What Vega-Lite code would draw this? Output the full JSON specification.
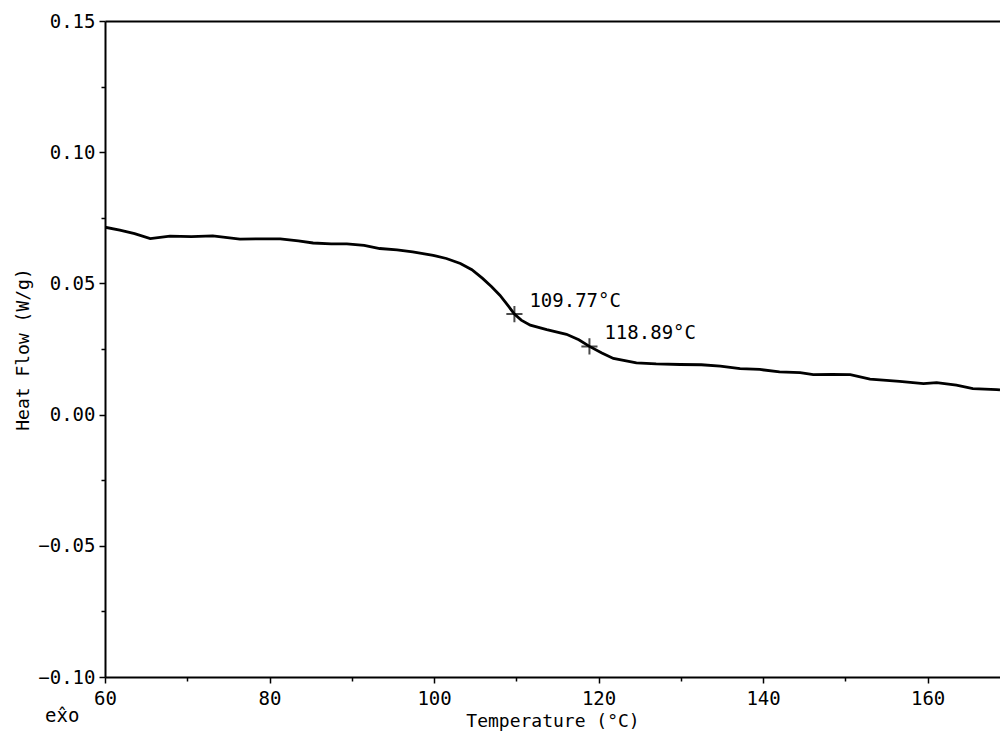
{
  "$schema": "https://vega.github.io/schema/vega-lite/v6.json",
  "width": 895,
  "height": 656,
  "autosize": "none",
  "padding": {"left": 105, "top": 21, "right": 0, "bottom": 57},
  "background": "white",
  "config": {
    "font": "DejaVu Sans Mono",
    "view": {"stroke": null},
    "axis": {"domainColor": "black", "domainWidth": 2, "tickColor": "black", "tickWidth": 1.5, "labelColor": "black", "titleColor": "black", "labelFont": "DejaVu Sans Mono", "titleFont": "DejaVu Sans Mono", "labelFontSize": 19, "titleFontSize": 18, "titleFontWeight": "normal", "grid": false}
  },
  "datasets": {
    "curve": [
      {"T": 60, "hf": 0.0714}, {"T": 61.8, "hf": 0.0703}, {"T": 63.6, "hf": 0.0690}, {"T": 65.5, "hf": 0.0671},
      {"T": 67.9, "hf": 0.0680}, {"T": 70.5, "hf": 0.0678}, {"T": 73.1, "hf": 0.0681}, {"T": 76.4, "hf": 0.0669},
      {"T": 79, "hf": 0.0670}, {"T": 81.3, "hf": 0.0670}, {"T": 83.5, "hf": 0.0662}, {"T": 85.3, "hf": 0.0654},
      {"T": 87.5, "hf": 0.0651}, {"T": 89.4, "hf": 0.0651}, {"T": 91.5, "hf": 0.0645}, {"T": 93.4, "hf": 0.0633},
      {"T": 95.5, "hf": 0.0628}, {"T": 97.4, "hf": 0.0620}, {"T": 99.9, "hf": 0.0607}, {"T": 101.5, "hf": 0.0595},
      {"T": 103.2, "hf": 0.0576}, {"T": 104.6, "hf": 0.0552}, {"T": 105.9, "hf": 0.0519}, {"T": 107, "hf": 0.0487},
      {"T": 108, "hf": 0.0455}, {"T": 109, "hf": 0.0415}, {"T": 109.77, "hf": 0.0383}, {"T": 110.6, "hf": 0.0360},
      {"T": 111.7, "hf": 0.0341}, {"T": 113.7, "hf": 0.0324}, {"T": 116.1, "hf": 0.0306}, {"T": 117.6, "hf": 0.0285},
      {"T": 118.89, "hf": 0.0260}, {"T": 120.4, "hf": 0.0235}, {"T": 121.8, "hf": 0.0214}, {"T": 124.6, "hf": 0.0197},
      {"T": 127, "hf": 0.0193}, {"T": 129.9, "hf": 0.0191}, {"T": 132.5, "hf": 0.0190}, {"T": 134.8, "hf": 0.0185},
      {"T": 137.2, "hf": 0.0175}, {"T": 139.6, "hf": 0.0172}, {"T": 142.0, "hf": 0.0163}, {"T": 144.5, "hf": 0.0160},
      {"T": 146.1, "hf": 0.0152}, {"T": 148.4, "hf": 0.0153}, {"T": 150.6, "hf": 0.0152}, {"T": 153.0, "hf": 0.0135},
      {"T": 156.6, "hf": 0.0127}, {"T": 159.5, "hf": 0.0118}, {"T": 161.1, "hf": 0.0122}, {"T": 163.5, "hf": 0.0112},
      {"T": 165.5, "hf": 0.0099}, {"T": 168.4, "hf": 0.0095}, {"T": 168.8, "hf": 0.0094}
    ],
    "marks": [
      {"T": 109.77, "hf": 0.0383, "label": "109.77°C"},
      {"T": 118.89, "hf": 0.0260, "label": "118.89°C"}
    ],
    "exo": [
      {"T": 54.8, "hf": -0.1148, "label": "ex̂o"}
    ]
  },
  "layer": [
    {
      "data": {"name": "curve"},
      "mark": {"type": "line", "color": "black", "strokeWidth": 2.8, "clip": true},
      "encoding": {
        "x": {"field": "T", "type": "quantitative", "scale": {"domain": [60, 168.8], "nice": false, "zero": false},
          "axis": {"title": "Temperature (°C)", "values": [60, 70, 80, 90, 100, 110, 120, 130, 140, 150, 160],
            "labelExpr": "datum.value % 20 == 0 ? datum.label : ''",
            "tickSize": {"condition": {"test": "datum.value % 20 == 0", "value": 6}, "value": 4},
            "labelPadding": 6, "titlePadding": 4, "labelFlush": false}},
        "y": {"field": "hf", "type": "quantitative", "scale": {"domain": [-0.1, 0.15], "nice": false, "zero": false},
          "axis": {"title": "Heat Flow (W/g)", "values": [-0.1, -0.075, -0.05, -0.025, 0, 0.025, 0.05, 0.075, 0.1, 0.125, 0.15],
            "labelExpr": "abs(datum.value*20 - round(datum.value*20)) < 0.001 ? format(datum.value, '.2f') : ''",
            "tickSize": {"condition": {"test": "abs(datum.value*20 - round(datum.value*20)) < 0.001", "value": 6}, "value": 4},
            "labelPadding": 4, "titlePadding": 5, "labelFlush": false}}
      }
    },
    {
      "data": {"name": "marks"},
      "mark": {"type": "point", "shape": "M-1,0L1,0M0,-1L0,1", "filled": false, "stroke": "black", "strokeWidth": 2, "size": 260},
      "encoding": {
        "x": {"field": "T", "type": "quantitative", "axis": {"orient": "top", "labels": false, "ticks": false, "title": null, "domainWidth": 2}},
        "y": {"field": "hf", "type": "quantitative", "axis": null}
      }
    },
    {
      "data": {"name": "marks"},
      "mark": {"type": "text", "align": "left", "baseline": "middle", "dx": 15, "dy": -13, "fontSize": 19, "font": "DejaVu Sans Mono", "color": "black"},
      "encoding": {
        "x": {"field": "T", "type": "quantitative", "axis": null},
        "y": {"field": "hf", "type": "quantitative", "axis": null},
        "text": {"field": "label"}
      }
    },
    {
      "data": {"name": "exo"},
      "mark": {"type": "text", "align": "center", "baseline": "middle", "fontSize": 19, "font": "DejaVu Sans Mono", "color": "black", "clip": false},
      "encoding": {
        "x": {"field": "T", "type": "quantitative", "axis": null},
        "y": {"field": "hf", "type": "quantitative", "axis": null},
        "text": {"field": "label"}
      }
    }
  ],
  "resolve": {"axis": {"x": "independent", "y": "independent"}}
}
